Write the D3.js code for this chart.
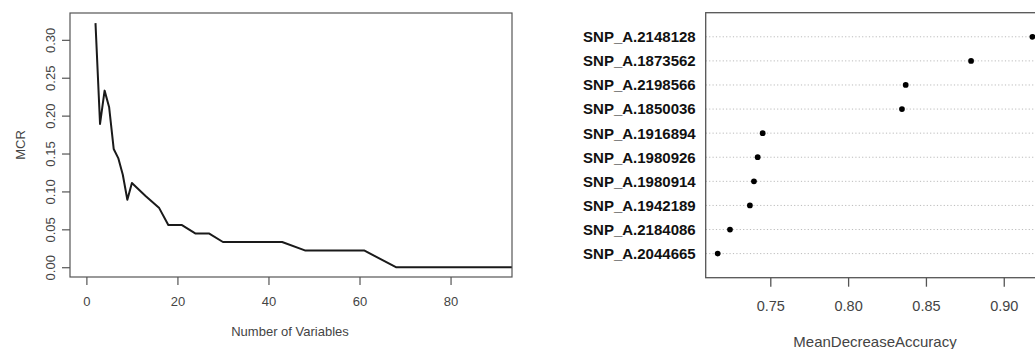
<!DOCTYPE html>
<html><head><meta charset="utf-8">
<script src="https://cdn.jsdelivr.net/npm/d3@7"></script>
<style>body{margin:0;background:#fff}svg{display:block}text{font-family:"Liberation Sans",Arial,sans-serif}</style>
</head><body>
<script>
// Left panel: MCR vs number of variables
const nVars = [2,3,4,5,6,7,8,9,10,13,16,18,21,24,27,30,43,48,61,68,100];
const mcr   = [0.322,0.189,0.233,0.211,0.156,0.144,0.122,0.089,0.111,0.094,0.078,0.0556,0.0556,0.0444,0.0444,0.0333,0.0333,0.0222,0.0222,0,0];
const xTicksL = [0,20,40,60,80];
const yTicksL = [0,0.05,0.10,0.15,0.20,0.25,0.30];

// Right panel: dot chart of variable importance
const snps = ["SNP_A.2148128","SNP_A.1873562","SNP_A.2198566","SNP_A.1850036","SNP_A.1916894",
              "SNP_A.1980926","SNP_A.1980914","SNP_A.1942189","SNP_A.2184086","SNP_A.2044665"];
const mda  = [0.9184,0.879,0.837,0.8346,0.7451,0.7419,0.7395,0.7369,0.7241,0.7162];
const xTicksR = [0.75,0.80,0.85,0.90];

const svg = d3.select("body").append("svg").attr("width",1035).attr("height",349);
const axisCol = "#555", textCol = "#444";

// ---------- Left ----------
const L = {l:70, r:512, t:13, b:277};
const xL = d3.scaleLinear().domain([-3.6, 93.5]).range([L.l, L.r]);
const yL = d3.scaleLinear().domain([-0.0129, 0.3354]).range([L.b, L.t]);
svg.append("clipPath").attr("id","clipL").append("rect")
  .attr("x",L.l).attr("y",L.t).attr("width",L.r-L.l).attr("height",L.b-L.t);
svg.append("path").datum(nVars.map((v,i)=>[v,mcr[i]]))
  .attr("clip-path","url(#clipL)")
  .attr("fill","none").attr("stroke","#1a1a1a").attr("stroke-width",2).attr("stroke-linejoin","round")
  .attr("d", d3.line().x(d=>xL(d[0])).y(d=>yL(d[1])));
svg.append("rect").attr("x",L.l).attr("y",L.t).attr("width",L.r-L.l).attr("height",L.b-L.t)
  .attr("fill","none").attr("stroke",axisCol).attr("stroke-width",1.2);

const gxL = svg.append("g").attr("transform",`translate(0,${L.b})`)
  .call(d3.axisBottom(xL).tickValues(xTicksL).tickSize(8).tickPadding(12).tickFormat(d3.format("d")));
gxL.select(".domain").remove();
gxL.selectAll("line").attr("stroke",axisCol).attr("stroke-width",1.2);
gxL.selectAll("text").attr("fill",textCol).attr("font-size",13);

const gyL = svg.append("g").attr("transform",`translate(${L.l},0)`)
  .call(d3.axisLeft(yL).tickValues(yTicksL).tickSize(8).tickFormat(d3.format(".2f")));
gyL.select(".domain").remove();
gyL.selectAll("line").attr("stroke",axisCol).attr("stroke-width",1.2);
gyL.selectAll("text").attr("fill",textCol).attr("font-size",13)
  .attr("x",null).attr("dy",null).attr("text-anchor","middle")
  .attr("transform",d=>`translate(${-15.5},0) rotate(-90)`);

svg.append("text").attr("x",290).attr("y",336).attr("text-anchor","middle")
  .attr("font-size",13).attr("fill",textCol).text("Number of Variables");
svg.append("text").attr("transform",`translate(25,145) rotate(-90)`).attr("text-anchor","middle")
  .attr("font-size",13).attr("fill",textCol).text("MCR");

// ---------- Right ----------
const R = {l:705.7, r:1045, t:12.7, b:277.7};
const xR = d3.scaleLinear().domain([0.7085, 0.9265]).range([R.l, R.r]);
const yR = d3.scaleLinear().domain([0, snps.length+1]).range([R.b, R.t]);
const rowPos = snps.map((s,i)=>snps.length - i);

svg.append("g").selectAll("line").data(snps).join("line")
  .attr("x1",R.l).attr("x2",R.r).attr("y1",(d,i)=>yR(rowPos[i])).attr("y2",(d,i)=>yR(rowPos[i]))
  .attr("stroke","#bbb").attr("stroke-width",1).attr("stroke-dasharray","1.2,2.2");
svg.append("g").selectAll("path").data(mda).join("path")
  .attr("transform",(d,i)=>`translate(${xR(d)},${yR(rowPos[i])})`)
  .attr("d",d3.symbol(d3.symbolCircle,26)).attr("fill","#000");
svg.append("rect").attr("x",R.l).attr("y",R.t).attr("width",R.r-R.l).attr("height",R.b-R.t)
  .attr("fill","none").attr("stroke",axisCol).attr("stroke-width",1.3);
svg.append("g").selectAll("text").data(snps).join("text")
  .attr("x",695.7).attr("y",(d,i)=>yR(rowPos[i])).attr("dy","0.36em").attr("text-anchor","end")
  .attr("font-size",15).attr("font-weight","bold").attr("fill","#111").text(d=>d);

const gxR = svg.append("g").attr("transform",`translate(0,${R.b})`)
  .call(d3.axisBottom(xR).tickValues(xTicksR).tickSize(9).tickPadding(14).tickFormat(d3.format(".2f")));
gxR.select(".domain").remove();
gxR.selectAll("line").attr("stroke",axisCol).attr("stroke-width",1.3);
gxR.selectAll("text").attr("fill",textCol).attr("font-size",14.5);

svg.append("text").attr("x",875).attr("y",346.5).attr("text-anchor","middle")
  .attr("font-size",15).attr("fill",textCol).text("MeanDecreaseAccuracy");
</script>
</body></html>
